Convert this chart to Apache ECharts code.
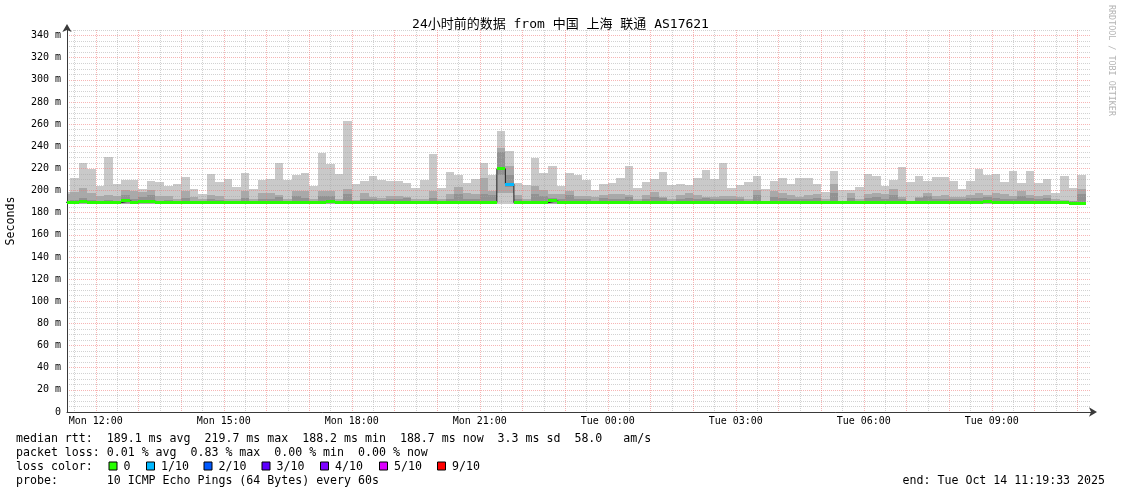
<!DOCTYPE html>
<html><head><meta charset="utf-8">
<script src="https://cdn.jsdelivr.net/npm/echarts@6/dist/echarts.min.js"></script>
<style>html,body{margin:0;padding:0;background:#fff}#c{width:1121px;height:494px}</style>
</head><body><div id="c"></div>
<script>
// ---------------- data ----------------
const chartTitle = '24小时前的数据 from 中国 上海 联通 AS17621';
// time in seconds since Mon 00:00 (local)
const firstSlotSec = 40320;   // Mon 11:12
const slotSec = 720;          // 12 minute consolidation
const viewStart = 40773;      // Mon 11:19:33
const viewEnd = 127173;       // Tue 11:19:33

// smoke: highest ping per slot
const rttMax = [
199.0, 211.3, 224.9, 219.7, 204.1, 230.3, 205.6, 209.5, 209.5, 201.1,
208.6, 207.4, 204.1, 205.6, 212.2, 201.7, 196.6, 214.9, 207.4, 210.4,
203.5, 215.8, 201.4, 209.5, 210.4, 224.9, 209.8, 214.0, 215.8, 204.4,
233.9, 223.6, 214.6, 262.7, 205.6, 208.6, 212.8, 209.5, 208.9, 208.6,
206.5, 202.3, 209.5, 232.7, 202.0, 216.7, 214.0, 206.5, 210.1, 224.9,
213.7, 253.7, 235.4, 206.5, 205.3, 229.7, 215.5, 222.1, 204.1, 215.5,
214.3, 209.5, 200.2, 205.6, 206.5, 211.0, 221.9, 202.3, 207.4, 210.1,
216.4, 205.0, 205.6, 205.0, 211.0, 218.5, 210.4, 224.6, 202.3, 205.0,
207.7, 212.8, 201.4, 208.6, 211.0, 205.6, 211.0, 211.0, 205.6, 198.4,
217.3, 200.5, 200.5, 203.2, 214.6, 212.8, 204.1, 209.5, 221.0, 207.4,
212.8, 208.3, 211.9, 211.9, 208.3, 201.4, 208.3, 219.2, 213.7, 214.6,
207.4, 217.3, 206.5, 217.3, 206.5, 210.1, 197.8, 212.8, 202.0, 213.7
];
// second-highest ping
const rttHi2 = [
197.0, 198.4, 202.0, 197.4, 194.7, 195.6, 194.7, 200.2, 199.3, 199.0,
200.2, 194.7, 194.7, 192.0, 199.3, 193.9, 192.0, 195.6, 194.7, 192.6,
192.6, 199.3, 192.6, 197.4, 197.4, 195.6, 192.6, 199.3, 199.3, 192.6,
199.9, 199.3, 192.6, 201.1, 191.1, 197.4, 193.9, 193.3, 194.7, 194.7,
193.9, 192.6, 192.6, 199.3, 192.6, 196.9, 202.9, 197.4, 196.9, 211.0,
200.0, 238.5, 222.0, 195.6, 192.6, 204.1, 200.2, 196.5, 196.5, 199.3,
194.7, 194.7, 194.2, 195.6, 196.5, 196.5, 195.6, 192.6, 195.6, 198.4,
193.9, 192.6, 195.6, 197.4, 195.6, 193.9, 194.4, 194.7, 194.7, 193.9,
192.6, 200.2, 190.8, 199.3, 197.4, 195.6, 193.9, 195.6, 196.5, 192.6,
205.6, 190.8, 197.4, 192.6, 196.5, 198.0, 196.5, 201.1, 194.2, 191.0,
193.9, 197.4, 194.7, 195.6, 193.9, 193.9, 195.6, 198.0, 195.6, 197.4,
196.5, 194.7, 199.3, 195.6, 194.7, 195.6, 192.6, 191.1, 191.0, 201.1
];
// third-highest ping
const rttHi3 = [
190.5, 191.5, 193.3, 191.5, 190.8, 191.5, 191.0, 195.6, 192.0, 194.0,
195.6, 191.0, 191.5, 190.5, 193.0, 191.0, 190.5, 192.0, 191.5, 190.8,
190.8, 193.0, 190.5, 192.0, 192.0, 194.0, 190.8, 195.0, 193.0, 190.5,
195.0, 195.0, 191.0, 196.9, 190.5, 192.5, 192.5, 191.5, 192.0, 192.0,
193.0, 191.0, 191.0, 193.0, 190.8, 192.5, 197.0, 192.0, 192.5, 197.0,
196.0, 234.9, 214.0, 192.0, 191.0, 197.0, 195.0, 193.0, 192.0, 196.0,
192.0, 192.0, 191.0, 193.0, 192.5, 192.0, 194.0, 190.8, 192.0, 194.4,
193.0, 191.0, 192.0, 193.0, 192.0, 193.0, 192.0, 192.0, 192.0, 192.0,
191.0, 196.0, 190.3, 194.0, 193.0, 192.5, 192.0, 192.5, 193.0, 191.0,
198.0, 190.3, 193.0, 191.0, 193.0, 194.0, 192.5, 196.0, 192.0, 190.5,
193.0, 195.0, 192.5, 192.5, 192.0, 192.0, 193.0, 193.0, 194.0, 193.0,
192.5, 192.5, 195.0, 193.0, 192.5, 193.0, 191.0, 190.5, 190.5, 197.0
];
// median rtt
const rttMedian = [
189.4, 189.0, 190.2, 189.1, 188.9, 189.0, 189.2, 190.6, 189.0, 190.3,
190.3, 189.0, 188.9, 189.0, 189.1, 188.9, 189.0, 189.2, 188.9, 189.0,
189.0, 189.1, 188.8, 189.0, 189.1, 189.2, 189.0, 189.1, 189.0, 188.8,
189.3, 190.0, 189.0, 189.4, 189.0, 189.1, 189.0, 188.9, 189.0, 189.0,
189.1, 188.9, 189.0, 189.1, 189.0, 189.1, 189.2, 189.0, 189.0, 189.2,
189.1, 219.7, 205.9, 189.0, 188.8, 189.0, 189.0, 190.6, 188.9, 189.1,
189.0, 189.0, 188.9, 189.1, 189.0, 189.0, 189.2, 188.8, 189.0, 189.1,
189.0, 188.9, 189.0, 189.0, 189.1, 189.0, 189.0, 189.1, 188.9, 189.0,
188.9, 189.2, 188.8, 189.1, 189.0, 189.0, 188.9, 189.0, 189.0, 188.8,
189.2, 188.8, 189.0, 188.9, 189.1, 189.1, 189.0, 189.1, 189.0, 188.8,
189.0, 189.1, 189.0, 189.0, 188.9, 188.9, 189.0, 189.1, 190.2, 189.0,
189.0, 189.0, 189.1, 189.0, 188.9, 189.0, 188.8, 188.8, 188.7, 188.7
];
// third-lowest ping
const rttLo3 = [
188.4, 188.4, 188.4, 188.4, 188.4, 188.4, 188.4, 188.4, 188.4, 188.4,
188.4, 188.4, 188.4, 188.4, 188.4, 188.4, 188.4, 188.4, 188.4, 188.4,
188.4, 188.4, 188.4, 188.4, 188.4, 188.4, 188.4, 188.4, 188.4, 188.4,
188.4, 188.4, 188.4, 188.4, 188.4, 188.4, 188.4, 188.4, 188.4, 188.4,
188.4, 188.4, 188.4, 188.4, 188.4, 188.4, 188.4, 188.4, 188.4, 188.4,
188.4, 213.7, 203.0, 188.4, 188.4, 188.4, 188.4, 188.4, 188.4, 188.4,
188.4, 188.4, 188.4, 188.4, 188.4, 188.4, 188.4, 188.4, 188.4, 188.4,
188.4, 188.4, 188.4, 188.4, 188.4, 188.4, 188.4, 188.4, 188.4, 188.4,
188.4, 188.4, 188.4, 188.4, 188.4, 188.4, 188.4, 188.4, 188.4, 188.4,
188.4, 188.4, 188.4, 188.4, 188.4, 188.4, 188.4, 188.4, 188.4, 188.4,
188.4, 188.4, 188.4, 188.4, 188.4, 188.4, 188.4, 188.4, 188.4, 188.4,
188.4, 188.4, 188.4, 188.4, 188.4, 188.4, 188.4, 188.4, 188.4, 188.4
];
// second-lowest ping
const rttLo2 = [
188.1, 188.1, 188.1, 188.1, 188.1, 188.1, 188.1, 188.1, 188.1, 188.1,
188.1, 188.1, 188.1, 188.1, 188.1, 188.1, 188.1, 188.1, 188.1, 188.1,
188.1, 188.1, 188.1, 188.1, 188.1, 188.1, 188.1, 188.1, 188.1, 188.1,
188.1, 188.1, 188.1, 188.1, 188.1, 188.1, 188.1, 188.1, 188.1, 188.1,
188.1, 188.1, 188.1, 188.1, 188.1, 188.1, 188.1, 188.1, 188.1, 188.1,
188.1, 198.0, 198.0, 188.1, 188.1, 188.1, 188.1, 188.1, 188.1, 188.1,
188.1, 188.1, 188.1, 188.1, 188.1, 188.1, 188.1, 188.1, 188.1, 188.1,
188.1, 188.1, 188.1, 188.1, 188.1, 188.1, 188.1, 188.1, 188.1, 188.1,
188.1, 188.1, 188.1, 188.1, 188.1, 188.1, 188.1, 188.1, 188.1, 188.1,
188.1, 188.1, 188.1, 188.1, 188.1, 188.1, 188.1, 188.1, 188.1, 188.1,
188.1, 188.1, 188.1, 188.1, 188.1, 188.1, 188.1, 188.1, 188.1, 188.1,
188.1, 188.1, 188.1, 188.1, 188.1, 188.1, 188.1, 188.1, 188.1, 188.1
];
// lowest ping
const rttMin = [
187.6, 187.6, 187.6, 187.6, 187.6, 187.6, 187.6, 187.6, 187.6, 187.6,
187.6, 187.6, 187.6, 187.6, 187.6, 187.6, 187.6, 187.6, 187.6, 187.6,
187.6, 187.6, 187.6, 187.6, 187.6, 187.6, 187.6, 187.6, 187.6, 187.6,
187.6, 187.6, 187.6, 187.6, 187.6, 187.6, 187.6, 187.6, 187.6, 187.6,
187.6, 187.6, 187.6, 187.6, 187.6, 187.6, 187.6, 187.6, 187.6, 187.6,
187.6, 188.0, 188.0, 187.6, 187.6, 187.6, 187.6, 187.6, 187.6, 187.6,
187.6, 187.6, 187.6, 187.6, 187.6, 187.6, 187.6, 187.6, 187.6, 187.6,
187.6, 187.6, 187.6, 187.6, 187.6, 187.6, 187.6, 187.6, 187.6, 187.6,
187.6, 187.6, 187.6, 187.6, 187.6, 187.6, 187.6, 187.6, 187.6, 187.6,
187.6, 187.6, 187.6, 187.6, 187.6, 187.6, 187.6, 187.6, 187.6, 187.6,
187.6, 187.6, 187.6, 187.6, 187.6, 187.6, 187.6, 187.6, 187.6, 187.6,
187.6, 187.6, 187.6, 187.6, 187.6, 187.6, 187.6, 187.6, 187.6, 187.6
];
// lost pings out of 10
const lossTenths = [
0,0,0,0,0,0,0,0,0,0, 0,0,0,0,0,0,0,0,0,0, 0,0,0,0,0,0,0,0,0,0,
0,0,0,0,0,0,0,0,0,0, 0,0,0,0,0,0,0,0,0,0, 0,0,1,0,0,0,0,0,0,0,
0,0,0,0,0,0,0,0,0,0, 0,0,0,0,0,0,0,0,0,0, 0,0,0,0,0,0,0,0,0,0,
0,0,0,0,0,0,0,0,0,0, 0,0,0,0,0,0,0,0,0,0, 0,0,0,0,0,0,0,0,0,0
];

const xLabelValues = [43200, 54000, 64800, 75600, 86400, 97200, 108000, 118800];
const xLabels = ['Mon 12:00', 'Mon 15:00', 'Mon 18:00', 'Mon 21:00', 'Tue 00:00', 'Tue 03:00', 'Tue 06:00', 'Tue 09:00'];
const yLabelValues = [0, 20, 40, 60, 80, 100, 120, 140, 160, 180, 200, 220, 240, 260, 280, 300, 320, 340];
const lossLegendLabels = ['0', '1/10', '2/10', '3/10', '4/10', '5/10', '9/10'];
const lossColors = ['#26ff00', '#00b8ff', '#0059ff', '#5e00ff', '#7e00ff', '#dd00ff', '#ff0000'];
const statLines = [
  'median rtt:  189.1 ms avg  219.7 ms max  188.2 ms min  188.7 ms now  3.3 ms sd  58.0   am/s',
  'packet loss: 0.01 % avg  0.83 % max  0.00 % min  0.00 % now',
  'loss color:',
  'probe:       10 ICMP Echo Pings (64 Bytes) every 60s'
];
const endText = 'end: Tue Oct 14 11:19:33 2025';
const creditText = 'RRDTOOL / TOBI OETIKER';

// ---------------- chart ----------------
const MONO = "'DejaVu Sans Mono', 'Noto Sans CJK SC', monospace";
// axis grid positions (hour lines = major, half hours = minor)
const hourLines = [], halfHourLines = [];
for (let t = 41400; t <= 126000; t += 1800) ((t % 3600 === 0) ? hourLines : halfHourLines).push(t);
const yMinorLines = [];
for (let v = 5; v <= 345; v += 5) if (v % 20 !== 0) yMinorLines.push(v);

const slots = rttMax.map((_, k) => [
  firstSlotSec + k * slotSec, firstSlotSec + (k + 1) * slotSec,
  rttMin[k], rttLo2[k], rttLo3[k], rttMedian[k], rttHi3[k], rttHi2[k], rttMax[k], lossTenths[k]
]);
const stepData = rttMedian.map((m, k) => [firstSlotSec + k * slotSec, m]);
stepData.push([firstSlotSec + rttMedian.length * slotSec, rttMedian[rttMedian.length - 1]]);

function xSpan(api) {
  const t0 = Math.max(api.value(0), viewStart), t1 = Math.min(api.value(1), viewEnd);
  return [Math.round(api.coord([t0, 0])[0]), Math.round(api.coord([t1, 0])[0]), t0];
}
function smoke(params, api) {
  const [xa, xb, t0] = xSpan(api);
  const band = (lo, hi, fill) => {
    const ya = Math.round(api.coord([t0, hi])[1]);
    const yb = Math.round(api.coord([t0, lo])[1]);
    return {type: 'rect', shape: {x: xa, y: ya, width: xb - xa, height: Math.max(yb - ya, 1)}, style: {fill}};
  };
  return {type: 'group', children: [
    band(api.value(2), api.value(8), '#c9c9c9'),
    band(api.value(3), api.value(7), '#a9a9a9'),
    band(api.value(4), api.value(6), '#929292')
  ]};
}
function medianMark(params, api) {
  const [xa, xb, t0] = xSpan(api);
  const y = api.coord([t0, api.value(5)])[1];
  const loss = api.value(9);
  const color = lossColors[loss <= 5 ? loss : 6];
  return {type: 'rect', shape: {x: xa, y: Math.round(y - 1.5), width: xb - xa, height: 3}, style: {fill: color}};
}

const legendY = [438.5, 452.5, 466.5, 480.5];
const boxX = [108.5, 146, 203.5, 261.5, 320, 379, 437];
const graphics = [];
statLines.forEach((s, i) => graphics.push({type: 'text', x: 16, y: legendY[i], silent: true,
  style: {text: s, font: '11.6px ' + MONO, fill: '#000', verticalAlign: 'middle'}}));
lossLegendLabels.forEach((lab, i) => {
  graphics.push({type: 'rect', silent: true, shape: {x: boxX[i] + 0.5, y: legendY[2] - 4.5, width: 8, height: 8},
    style: {fill: lossColors[i], stroke: '#000', lineWidth: 1}});
  graphics.push({type: 'text', x: boxX[i] + 15, y: legendY[2], silent: true,
    style: {text: lab, font: '11.6px ' + MONO, fill: '#000', verticalAlign: 'middle'}});
});
graphics.push({type: 'text', x: 1105, y: legendY[3], silent: true,
  style: {text: endText, font: '11.6px ' + MONO, fill: '#000', align: 'right', verticalAlign: 'middle'}});
graphics.push({type: 'text', x: 1111, y: 5, rotation: -Math.PI / 2, silent: true,
  style: {text: creditText, font: '8.4px ' + MONO, fill: '#b4b4b4', align: 'left', verticalAlign: 'middle'}});

const RED = 'rgba(240,120,120,0.55)', GRAY = 'rgba(165,165,165,0.5)';
const hiddenParts = {axisLine: {show: false}, axisLabel: {show: false}};
const option = {
  animation: false,
  backgroundColor: '#fff',
  title: {text: chartTitle, left: 'center', top: 13,
    textStyle: {fontSize: 13, fontWeight: 'normal', fontFamily: MONO, color: '#000'}},
  grid: {left: 67, right: 30, top: 30, bottom: 82, containLabel: false, outerBoundsMode: 'none'},
  xAxis: [{
    type: 'value', min: viewStart, max: viewEnd, position: 'bottom', z: 2,
    axisLine: {show: true, onZero: false, symbol: ['none', 'arrow'], symbolSize: [7, 8], symbolOffset: [0, 6],
      lineStyle: {color: '#3a3a3a', width: 1}},
    axisTick: {show: false, customValues: hourLines},
    axisLabel: {customValues: xLabelValues, margin: 4, fontSize: 10, fontFamily: MONO, color: '#000',
      formatter: v => xLabels[xLabelValues.indexOf(v)]},
    splitLine: {show: true, lineStyle: {color: RED, type: [1, 1], width: 1}}
  }, Object.assign({
    type: 'value', min: viewStart, max: viewEnd, position: 'top', z: 1,
    axisTick: {show: false, customValues: halfHourLines},
    splitLine: {show: true, lineStyle: {color: GRAY, type: [1, 1], width: 1}}
  }, hiddenParts)],
  yAxis: [{
    type: 'value', min: 0, max: 345, position: 'left', z: 2,
    name: 'Seconds', nameLocation: 'middle', nameGap: 50,
    nameTextStyle: {fontSize: 11.6, fontFamily: MONO, color: '#000'},
    axisLine: {show: true, onZero: false, symbol: ['none', 'arrow'], symbolSize: [7, 8], symbolOffset: [0, 6],
      lineStyle: {color: '#3a3a3a', width: 1}},
    axisTick: {show: false, customValues: yLabelValues},
    axisLabel: {customValues: yLabelValues, margin: 6, fontSize: 10, fontFamily: MONO, color: '#000',
      formatter: v => v === 0 ? '0' : v + ' m'},
    splitLine: {show: true, lineStyle: {color: RED, type: [1, 1], width: 1}}
  }, Object.assign({
    type: 'value', min: 0, max: 345, position: 'right', z: 1,
    axisTick: {show: false, customValues: yMinorLines},
    splitLine: {show: true, lineStyle: {color: GRAY, type: [1, 1], width: 1}}
  }, hiddenParts)],
  series: [
    {type: 'custom', name: 'smoke', z: -1, renderItem: smoke, data: slots,
      encode: {x: [0, 1], y: [2, 8]}, clip: true, silent: true},
    {type: 'line', name: 'median', z: 3, data: stepData, step: 'end', symbol: 'none',
      lineStyle: {color: '#202020', width: 1}, clip: true, silent: true},
    {type: 'custom', name: 'loss', z: 4, renderItem: medianMark, data: slots,
      encode: {x: [0, 1], y: [5]}, clip: true, silent: true}
  ],
  graphic: graphics
};
const chart = echarts.init(document.getElementById('c'));
chart.setOption(option);
</script></body></html>
